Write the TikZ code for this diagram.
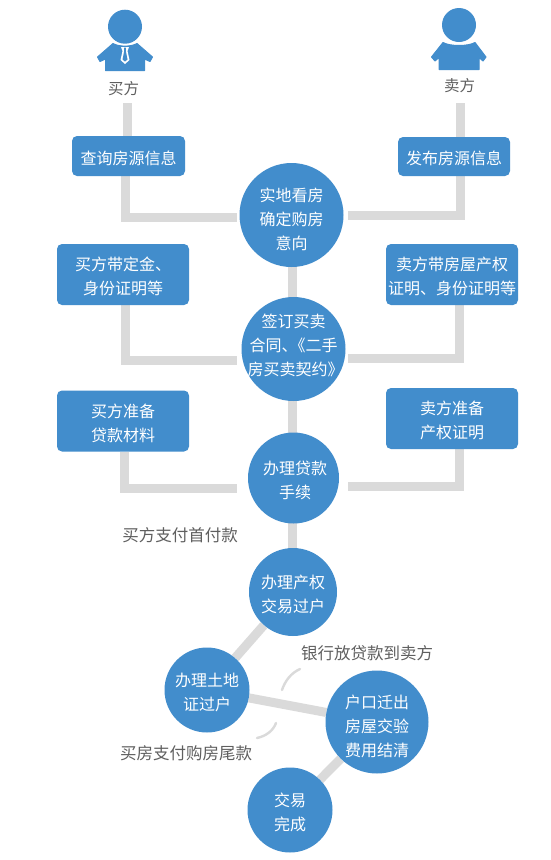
\documentclass[tikz,border=0pt]{standalone}
\usepackage{fontspec}
\setmainfont{Noto Sans CJK SC}
\definecolor{bl}{HTML}{428DCC}
\definecolor{ln}{HTML}{DADADA}
\definecolor{tx}{HTML}{5F5F5F}
\pgfdeclarelayer{under}
\pgfsetlayers{under,main}
\newcommand{\tnudge}[1]{\rule{0pt}{#1}}
\tikzset{
 x=1pt,y=-1pt,
 conn/.style={draw=ln,line width=9pt},
 dashc/.style={draw=ln,line width=2.4pt,line cap=round},
 bx/.style={fill=bl,rounded corners=5pt,text=white,font=\fontsize{16}{24}\selectfont,align=center,inner sep=0pt,anchor=center},
 ci/.style={circle,fill=bl,text=white,font=\fontsize{16}{24}\selectfont,align=center,inner sep=0pt,anchor=center},
 lb/.style={text=tx,font=\fontsize{16.5}{18}\selectfont,inner sep=0pt,anchor=center},
 ic/.style={fill=bl,draw=bl,line width=1pt,line join=round},
}
\begin{document}
\begin{tikzpicture}
\useasboundingbox (0,0) rectangle (550,860);
% nodes
\node[ci,minimum size=104pt] (c1) at (291.5,215) {\tnudge{21.8pt}实地看房\\确定购房\\意向};
\node[ci,minimum size=104pt,inner sep=-12pt] (c2) at (293.5,349) {签订买卖\\合同、\kern-8pt《二手\\房买卖契约》\kern-4pt\rule[-7.8pt]{0pt}{7.8pt}};
\node[ci,minimum size=91pt] (c3) at (293.5,478) {\tnudge{17.8pt}\kern3pt办理贷款\\\kern3pt手续};
\node[ci,minimum size=88pt] (c4) at (293,592) {\tnudge{17.8pt}办理产权\\交易过户};
\node[ci,minimum size=85pt] (c5) at (207,690) {\tnudge{17.8pt}办理土地\\证过户};
\node[ci,minimum size=103pt] (c6) at (377,722) {\tnudge{21.8pt}户口迁出\\房屋交验\\费用结清};
\node[ci,minimum size=85pt] (c7) at (290,810) {\tnudge{18.8pt}交易\\完成};
\node[bx,minimum width=113pt,minimum height=40pt] (b1) at (128.5,156) {\tnudge{17.8pt}查询房源信息};
\node[bx,minimum width=112pt,minimum height=39pt] (b2) at (454,156.5) {\tnudge{17.8pt}发布房源信息};
\node[bx,minimum width=132pt,minimum height=61pt] (b3) at (123,274.5) {\tnudge{17.8pt}买方带定金、\\身份证明等};
\node[bx,minimum width=132pt,minimum height=61pt] (b4) at (452,274.5) {\tnudge{17.8pt}卖方带房屋产权\\证明、身份证明等};
\node[bx,minimum width=132pt,minimum height=61pt] (b5) at (123,421) {\tnudge{17.8pt}买方准备\\贷款材料};
\node[bx,minimum width=132pt,minimum height=61pt] (b6) at (452,418.5) {\tnudge{17.8pt}卖方准备\\产权证明};
\node[lb,font=\fontsize{15.5}{18}\selectfont] (buyer) at (123.5,89) {买方};
\node[lb,font=\fontsize{15.5}{18}\selectfont] (seller) at (459.5,86) {卖方};
\node[lb] (t1) at (180,535) {买方支付首付款};
\node[lb] (t2) at (367,653) {银行放贷款到卖方};
\node[lb] (t3) at (186,753) {买房支付购房尾款};
\coordinate (j1) at (125,217.5);
\coordinate (j2) at (460,215);
\coordinate (j3) at (125,360.5);
\coordinate (j4) at (459.5,358.5);
\coordinate (j5) at (124.5,488.5);
\coordinate (j6) at (459.5,486.5);
\coordinate (w1) at (237,217.5);
\coordinate (e2) at (348,215);
\coordinate (w3) at (237,360.5);
\coordinate (e4) at (348,358.5);
\coordinate (w5) at (237,488.5);
\coordinate (e6) at (348,486.5);
\coordinate (s1) at (127,103);
\coordinate (s2) at (460,103);
\coordinate (k1) at (292.5,215);
\coordinate (k2) at (292.5,349);
\coordinate (k3) at (292.5,478);
\coordinate (k4) at (292.5,592);
\begin{pgfonlayer}{under}
\fill[white] (0,0) rectangle (550,860);
\draw[conn] (s1) -- (s1 |- b1.north);
\draw[conn] (s2) -- (s2 |- b2.north);
\draw[conn] (j1 |- b1.south) -- (j1) -- (w1);
\draw[conn] (j2 |- b2.south) -- (j2) -- (e2);
\draw[conn] (j3 |- b3.south) -- (j3) -- (w3);
\draw[conn] (j4 |- b4.south) -- (j4) -- (e4);
\draw[conn] (j5 |- b5.south) -- (j5) -- (w5);
\draw[conn] (j6 |- b6.south) -- (j6) -- (e6);
\draw[conn] (k1) -- (k2);
\draw[conn] (k2) -- (k3);
\draw[conn] (k3) -- (k4);
\draw[conn] (c4) -- (c5);
\draw[conn] (c5) -- (c6);
\draw[conn] (c6) -- (c7);
\end{pgfonlayer}
\draw[dashc] (300,669) .. controls (291,673) and (285,681) .. (282,690);
\draw[dashc] (276,723) .. controls (273,731) and (266,736) .. (257,738);
% buyer icon
\fill[bl] (125,26.7) circle (17);
\path[ic] (113,43.5) .. controls (119,47) and (131,47) .. (137,43.5) -- (152.5,57) -- (150,61.5) -- (144.5,59) -- (144.5,70.5) -- (105.5,70.5) -- (105.5,59) -- (100,61.5) -- (97.5,57) -- cycle;
\fill[white] (121,47) -- (129,47) -- (127.5,51) -- (129.5,60) -- (125,64) -- (120.5,60) -- (122.5,51) -- cycle;
\fill[bl] (124,47.5) -- (126,47.5) -- (125.8,51) -- (127.5,59.5) -- (125,61.5) -- (122.5,59.5) -- (124.2,51) -- cycle;
% seller icon
\fill[bl] (459,25) circle (17);
\path[ic] (443,42.5) .. controls (450,46.5) and (468,46.5) .. (475,42.5) -- (486,57) -- (483,61) -- (479,57.5) -- (479,69.5) -- (439,69.5) -- (439,57.5) -- (435,61) -- (431.5,57) -- cycle;
\end{tikzpicture}
\end{document}
